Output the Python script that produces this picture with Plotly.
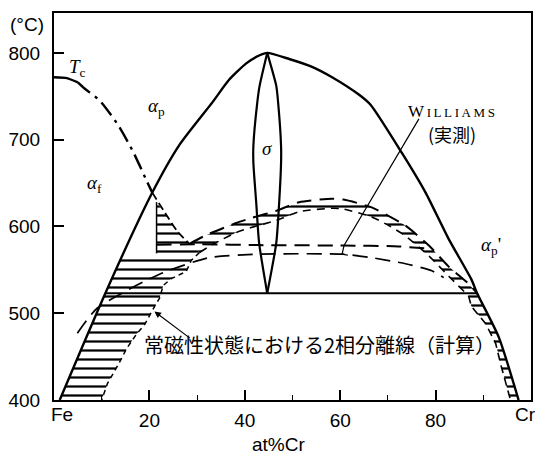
import plotly.graph_objects as go

# ---- Fe-Cr diagram: composition in at% Cr, temperature in degC ----

# alpha / sigma dome (solid)
dome_left_cr = [1.2, 11.0, 20.5, 26.3, 33.2, 36.7, 40.3, 43.0, 44.7]
dome_left_t = [400, 526, 638, 694, 743, 769, 788, 797, 800]
dome_right_cr = [44.7, 49.3, 54.1, 58.3, 63.9, 66.4, 72.9, 77.9, 82.7, 87.5, 88.7, 93.2, 97.4]
dome_right_t = [800, 793, 784, 772, 752, 740, 685, 639, 586, 539, 523, 473, 400]

# sigma lens
sigma_t = [800, 762, 742, 693, 673, 627, 581, 523]
sigma_left_cr = [44.7, 43.1, 42.6, 41.8, 41.8, 42.4, 43.0, 44.7]
sigma_right_cr = [44.7, 46.6, 47.0, 47.6, 47.6, 47.2, 46.6, 44.7]

# eutectoid horizontal
eut_cr = [10.8, 88.7]
eut_t = [523, 523]

# Curie temperature
tc_solid_cr = [0, 2.7, 5.0]
tc_solid_t = [772, 771, 766]
tc_dashdot_cr = [5.0, 6.4, 9.6, 13.3, 16.5, 19.4, 20.6]
tc_dashdot_t = [766, 759, 745, 718, 687, 653, 639]
tc_tail_cr = [20.6, 23.6, 25.9, 28.4]
tc_tail_t = [639, 613, 594, 580]

# hatched magnetic gap on the Fe side: right-hand edge
fe_edge_cr = [30.5, 28.8, 27.7, 24.6, 22.9, 22.1, 21.1, 19.0, 17.3, 15.2, 13.7, 12.3, 11.2, 10.0]
fe_edge_t = [570, 561, 548, 540, 532, 517, 508, 487, 476, 459, 443, 430, 419, 400]
fe_top_cr = [14.6, 21.5, 21.5]
fe_top_t = [569, 569, 628]

# hatched band under the calculated gap (upper part)
band_out_cr = [28.4, 31.9, 38.2, 41.5, 46.6, 51.4, 58.3, 60.7, 66.6, 70.2, 73.7, 78.6, 82.7, 86.9, 88.7]
band_out_t = [580, 590, 604, 610, 618, 628, 632, 631, 622, 612, 601, 578, 554, 534, 523]
band_in_cr = [30.5, 33.5, 38.2, 41.5, 46.6, 51.4, 58.3, 60.7, 66.6, 70.2, 73.7, 78.6, 82.7, 86.9]
band_in_t = [570, 580, 593, 599, 607, 617, 621, 620, 611, 601, 589, 566, 543, 520]
# hatched band along the Cr-side boundary (below the eutectoid)
cr_band_in_cr = [86.9, 87.5, 90.5, 92.6, 93.8, 94.9, 95.7]
cr_band_in_t = [520, 508, 488, 465, 438, 415, 400]

# Williams (measured) gap, two dashed curves
w_up_cr = [21.5, 30.5, 43.0, 60.8, 72.2, 79.2]
w_up_t = [579, 579.5, 578.5, 578, 577, 574]
w_lo_cr = [4.9, 9.1, 22.1, 32.5, 43.0, 60.8, 66.6, 73.7, 79.2, 81.7]
w_lo_t = [477, 506, 545, 564, 568, 568, 564, 557, 549, 541]

# leader line for the Williams label
w_ptr_cr = [76.5, 60.8, 60.4, 61.6]
w_ptr_t = [724, 578, 568, 567]

# arrow for the paramagnetic separation label (head, tail)
para_head = (21.05, 502)
para_tail = (28.8, 470)

x_ticks = [20, 40, 60, 80]
x_minor = [10, 30, 50, 70, 90]
y_ticks = [400, 500, 600, 700, 800]

INK = "black"
SANS = "Liberation Sans, Arial, sans-serif"
SERIF = "Liberation Serif, Times New Roman, serif"
CJK = "Noto Sans CJK JP, sans-serif"
LONGDASH = "15px,8px"

fig = go.Figure()


def hatch(xs, ys):
    fig.add_trace(go.Scatter(
        x=xs, y=ys, mode="lines", fill="toself",
        fillcolor="rgba(0,0,0,0)", line=dict(width=0),
        fillpattern=dict(shape="-", size=9, solidity=0.25, fgopacity=1,
                         fgcolor=INK, bgcolor="rgba(0,0,0,0)"),
        hoverinfo="skip", showlegend=False))


def curve(xs, ys, width=2.2, dash="solid", shape="spline"):
    fig.add_trace(go.Scatter(
        x=xs, y=ys, mode="lines",
        line=dict(color=INK, width=width, dash=dash, shape=shape, smoothing=0.6),
        hoverinfo="skip", showlegend=False))


# hatched areas
fe_poly_cr = [dome_left_cr[0], 10.8] + fe_top_cr + tc_tail_cr[1:] + fe_edge_cr
fe_poly_t = [dome_left_t[0], 523] + fe_top_t + tc_tail_t[1:] + fe_edge_t
hatch(fe_poly_cr, fe_poly_t)

band_poly_cr = band_out_cr + dome_right_cr[-2:] + cr_band_in_cr[::-1] + band_in_cr[::-1]
band_poly_t = band_out_t + dome_right_t[-2:] + cr_band_in_t[::-1] + band_in_t[::-1]
hatch(band_poly_cr, band_poly_t)

# solid phase boundaries
curve(dome_left_cr + dome_right_cr[1:], dome_left_t + dome_right_t[1:], width=2.4)
curve(sigma_left_cr, sigma_t, width=2.2)
curve(sigma_right_cr, sigma_t, width=2.2)
curve(eut_cr, eut_t, width=2.2, shape="linear")

# Curie temperature
curve(tc_solid_cr, tc_solid_t, width=2.4)
curve(tc_dashdot_cr, tc_dashdot_t, width=2.4, dash="16px,6px,3px,6px")
curve(tc_tail_cr, tc_tail_t, width=1.8, dash="8px,4px")

# hatched-gap outlines
curve(fe_edge_cr, fe_edge_t, width=1.5, dash="5px,4px", shape="linear")
curve(fe_top_cr[1:], fe_top_t[1:], width=1.5, shape="linear")
curve(band_out_cr, band_out_t, width=2.0, dash=LONGDASH)
curve(band_in_cr, band_in_t, width=1.6, dash="8px,6px")
curve(cr_band_in_cr, cr_band_in_t, width=1.6, dash="8px,5px", shape="linear")

# Williams curves
curve(w_up_cr, w_up_t, width=2.0, dash=LONGDASH)
curve(w_lo_cr, w_lo_t, width=1.7, dash=LONGDASH)
curve(w_ptr_cr, w_ptr_t, width=1.2, shape="linear")


def label(x, y, text, size=18, family=SERIF, **kw):
    fig.add_annotation(x=x, y=y, xref="x", yref="y", text=text, showarrow=False,
                       font=dict(family=family, size=size, color=INK), **kw)


label(5.0, 783, "<i>T</i><sub>c</sub>", size=19)
label(21.5, 738, "<i>α</i><sub>p</sub>", size=19)
label(8.5, 649, "<i>α</i><sub>f</sub>", size=19)
label(44.7, 690, "<i>σ</i>", size=19)
label(91.7, 577, "<i>α</i><sub>p</sub>'", size=19)
label(83.4, 733, "W<span style='font-size:13px'>\u2009I\u2009L\u2009L\u2009I\u2009A\u2009M\u2009S</span>",
      size=17)
label(83.4, 707, "(実測)", size=18, family=CJK)
label(18.4, 464, "常磁性状態における2相分離線（計算）", size=20, family=CJK, xanchor="left")

fig.add_annotation(x=para_head[0], y=para_head[1], ax=para_tail[0], ay=para_tail[1],
                   xref="x", yref="y", axref="x", ayref="y", text="", showarrow=True,
                   arrowhead=2, arrowsize=1.1, arrowwidth=1.2, arrowcolor=INK)

# axis end labels, axis title and unit
for x, txt in [(1.6, "Fe"), (98.8, "Cr")]:
    fig.add_annotation(x=x, y=0, xref="x", yref="paper", text=txt, showarrow=False,
                       yanchor="top", yshift=-2, font=dict(family=SANS, size=19, color=INK))
fig.add_annotation(x=47.0, y=-0.114, xref="x", yref="paper", text="at%Cr", showarrow=False,
                   yanchor="middle", font=dict(family=SANS, size=19, color=INK))
fig.add_annotation(x=-0.057, y=0.969, xref="paper", yref="paper", text="(°C)",
                   showarrow=False, xanchor="center", yanchor="middle",
                   font=dict(family=SANS, size=19, color=INK))

fig.update_xaxes(range=[0, 100], showline=True, linewidth=2, linecolor=INK, mirror=True,
                 ticks="inside", ticklen=10, tickwidth=1.5, tickcolor=INK,
                 tickvals=x_ticks, ticktext=[str(v) for v in x_ticks],
                 tickfont=dict(family=SANS, size=19, color=INK), ticklabelstandoff=2,
                 minor=dict(tickvals=x_minor, ticks="inside", ticklen=5, tickwidth=1.2,
                            tickcolor=INK),
                 showgrid=False, zeroline=False)
fig.update_yaxes(range=[400, 846], showline=True, linewidth=2, linecolor=INK, mirror=True,
                 ticks="inside", ticklen=10, tickwidth=1.5, tickcolor=INK,
                 tickvals=y_ticks, ticktext=[str(v) for v in y_ticks],
                 tickfont=dict(family=SANS, size=19, color=INK), ticklabelstandoff=8,
                 showgrid=False, zeroline=False)

fig.update_layout(width=536, height=457, margin=dict(l=54, r=3, t=13, b=57),
                  paper_bgcolor="white", plot_bgcolor="white", showlegend=False)

fig.write_html("out.html")
